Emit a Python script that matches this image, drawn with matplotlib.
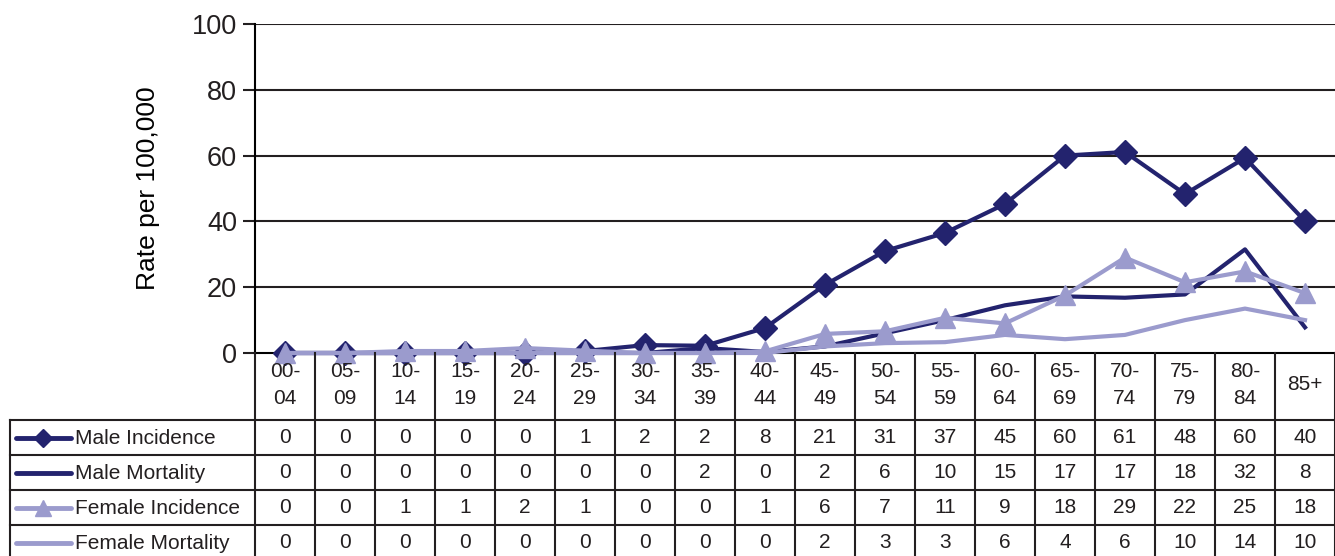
import numpy as np
import matplotlib
matplotlib.use('Agg')
import matplotlib.pyplot as plt

plt.rcParams['font.family'] = ['Liberation Sans', 'DejaVu Sans']
plt.rcParams['text.color'] = '#231f20'
plt.rcParams['ytick.labelcolor'] = '#231f20'

# age groups
ages = ['00-\n04', '05-\n09', '10-\n14', '15-\n19', '20-\n24', '25-\n29', '30-\n34', '35-\n39',
        '40-\n44', '45-\n49', '50-\n54', '55-\n59', '60-\n64', '65-\n69', '70-\n74', '75-\n79',
        '80-\n84', '85+']

# plotted rates
male_inc = [0, 0, 0, 0, 0, 0.6, 2.4, 2.2, 7.6, 20.7, 31, 36.5, 45.3, 60, 61.1, 48.3, 59.3, 40.1]
male_mort = [0, 0, 0, 0, 0, 0, 0, 1.5, 0.3, 2, 6, 10, 14.5, 17.2, 16.8, 17.8, 31.5, 7.8]
fem_inc = [0, 0, 0.6, 0.6, 1.5, 0.7, 0, 0, 0.5, 5.8, 6.6, 10.7, 9, 17.5, 29, 21.5, 24.8, 18.2]
fem_mort = [0, 0, 0, 0, 0, 0, 0, 0, 0, 2, 3, 3.3, 5.5, 4.2, 5.5, 10, 13.5, 10]

# rounded values in the data table
tab_male_inc = [0, 0, 0, 0, 0, 1, 2, 2, 8, 21, 31, 37, 45, 60, 61, 48, 60, 40]
tab_male_mort = [0, 0, 0, 0, 0, 0, 0, 2, 0, 2, 6, 10, 15, 17, 17, 18, 32, 8]
tab_fem_inc = [0, 0, 1, 1, 2, 1, 0, 0, 1, 6, 7, 11, 9, 18, 29, 22, 25, 18]
tab_fem_mort = [0, 0, 0, 0, 0, 0, 0, 0, 0, 2, 3, 3, 6, 4, 6, 10, 14, 10]

names = ['Male Incidence', 'Male Mortality', 'Female Incidence', 'Female Mortality']
navy = '#23236e'
lilac = '#9b9bcd'
series = [
    (male_inc, tab_male_inc, navy, 'D', 12),
    (male_mort, tab_male_mort, navy, None, 0),
    (fem_inc, tab_fem_inc, lilac, '^', 15),
    (fem_mort, tab_fem_mort, lilac, None, 0),
]

W, H = 1335, 556
fig = plt.figure(figsize=(W / 100, H / 100), dpi=100)

# main chart area
ax = fig.add_axes([255 / W, (H - 353) / H, (W - 255) / W, (353 - 24) / H])
x = np.arange(len(ages))
ax.set_xlim(-0.5, len(ages) - 0.5)
ax.set_ylim(0, 100)
ax.set_yticks(range(0, 101, 20))
ax.tick_params(axis='y', length=9, width=1.5, labelsize=19.5, pad=4, color='#231f20')
ax.set_xticks([])
for s in ['top', 'right']:
    ax.spines[s].set_visible(False)
ax.spines['left'].set_linewidth(1.5)
ax.spines['bottom'].set_linewidth(1.5)
for v in range(20, 101, 20):
    ax.axhline(v, color='#231f20', lw=1.5, zorder=1)
ax.set_ylabel('Rate per 100,000', fontsize=19, labelpad=23)

for vals, tab, col, mk, ms in series:
    ax.plot(x, vals, color=col, lw=3, marker=mk, markersize=ms, zorder=3, clip_on=False)

# data table underneath
tx = fig.add_axes([10 / W, 0, (W - 10) / W, (H - 353) / H])
left_u = -0.5 - (255 - 10) / 60
tx.set_xlim(left_u, len(ages) - 0.5)
tx.set_ylim(H - 353, 0)
tx.axis('off')


def px2u(px):
    return left_u + (px - 10) / 60


head_h = 67
row_h = 35
n = len(ages)
lw = 1.5
# column lines
for k in range(n + 1):
    tx.plot([k - 0.5, k - 0.5], [0, 210], color='#231f20', lw=lw, clip_on=False)
for r in range(len(series)):
    y0 = head_h + r * row_h
    tx.plot([left_u, n - 0.5], [y0, y0], color='#231f20', lw=lw, clip_on=False)
tx.plot([left_u, left_u], [head_h, 210], color='#231f20', lw=lw, clip_on=False)

for i, lab in enumerate(ages):
    tx.text(i, 32, lab, ha='center', va='center', fontsize=15, linespacing=1.5)

for r, (vals, tab, col, mk, ms) in enumerate(series):
    yc = head_h + r * row_h + row_h / 2
    tx.plot([px2u(16), px2u(71)], [yc, yc], color=col, lw=3.5, solid_capstyle='round')
    if mk:
        tx.plot([px2u(43)], [yc], color=col, marker=mk, markersize=ms * 0.8)
    tx.text(px2u(75), yc + 1, names[r], ha='left', va='center', fontsize=15)
    for i, v in enumerate(tab):
        tx.text(i, yc, str(v), ha='center', va='center', fontsize=15)

fig.savefig('out.png', dpi=100)
